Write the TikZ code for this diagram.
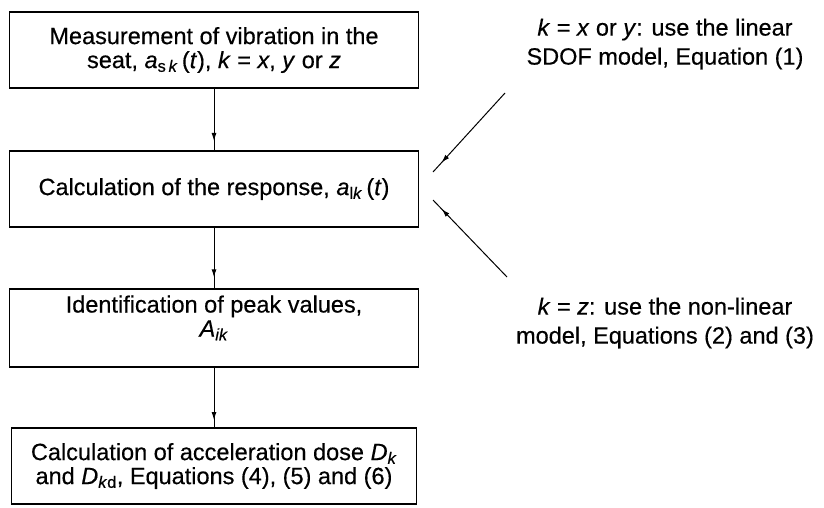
\documentclass[tikz,border=0pt]{standalone}
\usepackage{fontspec}
\setmainfont{Liberation Sans}[FakeBold=0.4]
\usetikzlibrary{decorations.markings,arrows.meta}
\newcommand\iv[1]{\textit{#1}}
\newcommand\sbs[1]{\textsubscript{#1}}
\begin{document}
\begin{tikzpicture}[x=1pt,y=-1pt,
  font=\fontsize{23.5}{24}\selectfont,
  box/.style={draw,line width=1.7pt,minimum width=409pt,minimum height=76pt,align=center,inner sep=0pt},
  conn/.style={line width=1pt,postaction={decorate},
    decoration={markings,mark=at position #1 with {\arrow{Latex[length=8pt,width=5pt]}}}},
  lbl/.style={align=center,inner sep=0pt,font=\fontsize{23.5}{29}\selectfont}]
\useasboundingbox (0,0) rectangle (824,507);
\node[box] (b1) at (214,50) {Measurement of vibration in the\\seat, \iv{a}\sbs{s\,\iv{k}}\,(\iv{t}), \iv{k} = \iv{x}, \iv{y} or \iv{z}};
\node[box] (b2) at (214,189) {Calculation of the response, \iv{a}\sbs{l\iv{k}}\,(\iv{t})};
\node[box,minimum height=78pt] (b3) at (214,328) {Identification of peak values,\\\iv{A}\sbs{\iv{ik}}\rule[-24pt]{0pt}{0pt}};
\node[box,minimum width=405pt] (b4) at (214,466) {Calculation of acceleration dose \iv{D}\sbs{\iv{k}}\\and \iv{D}\sbs{\iv{k}d}, Equations (4), (5) and (6)};
\draw[conn=0.85] (b1.south) -- (b2.north);
\draw[conn=0.82] (b2.south) -- (b3.north);
\draw[conn=0.88] (b3.south) -- (b4.north);
\node[lbl] (t1) at (665,44) {\iv{k} = \iv{x} or \iv{y}: use the linear\\SDOF model, Equation (1)};
\node[lbl] (t2) at (665,323) {\iv{k} = \iv{z}: use the non-linear\\model, Equations (2) and (3)};
\coordinate (u1) at (505,93);
\coordinate (u2) at (433,172);
\coordinate (l1) at (507,277);
\coordinate (l2) at (433,200);
\draw[conn=0.88] (u1) -- (u2);
\draw[conn=0.88] (l1) -- (l2);
\end{tikzpicture}
\end{document}
